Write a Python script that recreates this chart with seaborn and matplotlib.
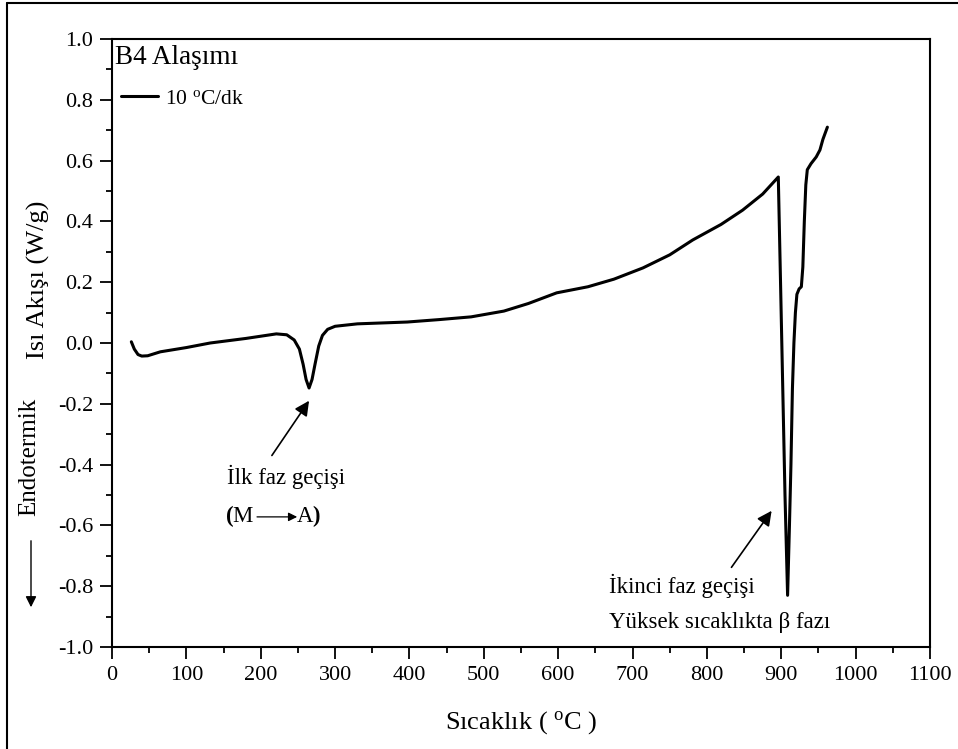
import matplotlib
matplotlib.use("Agg")
import matplotlib.pyplot as plt
from matplotlib.lines import Line2D
from matplotlib.ticker import MultipleLocator
import seaborn as sns
import pandas as pd

# ---- data ----
temperature = [26, 30, 35, 40, 48, 65, 100, 132, 180, 221, 235, 245, 252, 257, 261,
               265, 269, 273, 278, 283, 290, 300, 330, 397, 440, 483, 527, 560, 598,
               640, 675, 714, 750, 781, 819, 848, 875, 896, 899, 902, 905, 908.5,
               911, 913, 915, 917, 919, 921, 924, 927, 929, 931, 933, 935, 940, 947,
               952, 956, 962]
heat_flow = [0.004, -0.02, -0.038, -0.043, -0.042, -0.029, -0.015, 0.0, 0.015, 0.03,
             0.027, 0.01, -0.02, -0.07, -0.12, -0.148, -0.12, -0.07, -0.01, 0.025,
             0.045, 0.055, 0.063, 0.069, 0.077, 0.086, 0.105, 0.13, 0.165, 0.185,
             0.21, 0.247, 0.29, 0.339, 0.39, 0.437, 0.49, 0.546, 0.2, -0.15, -0.5,
             -0.83, -0.6, -0.4, -0.15, 0.0, 0.1, 0.16, 0.178, 0.185, 0.25, 0.4, 0.52,
             0.57, 0.59, 0.612, 0.635, 0.67, 0.71]
series_label = "10 $^{\\mathrm{o}}$C/dk"
title_text = "B4 Alaşımı"
x_label = "Sıcaklık ( $^{\\mathrm{o}}$C )"
y_label = "Isı Akışı (W/g)"
side_label = "Endotermik"
ann1_lines = ["İlk faz geçişi"]
ann2_lines = ["İkinci faz geçişi", "Yüksek sıcaklıkta β fazı"]

df = pd.DataFrame({"T": temperature, "Q": heat_flow})

sns.set_theme(style="ticks")
plt.rcParams["font.family"] = ["Liberation Serif", "DejaVu Serif"]
plt.rcParams["mathtext.fontset"] = "custom"
plt.rcParams["mathtext.rm"] = "Liberation Serif"
plt.rcParams["mathtext.it"] = "Liberation Serif:italic"
plt.rcParams["text.color"] = "black"
plt.rcParams["axes.labelcolor"] = "black"
plt.rcParams["xtick.color"] = "black"
plt.rcParams["ytick.color"] = "black"

fig = plt.figure(figsize=(9.58, 7.49), dpi=100)
ax = fig.add_axes([112 / 958, 1 - 647 / 749, (930 - 112) / 958, (647 - 39) / 749])

sns.lineplot(data=df, x="T", y="Q", sort=False, estimator=None, color="black",
             linewidth=2.2, ax=ax, label=series_label)

ax.set_xlim(0, 1100)
ax.set_ylim(-1.0, 1.0)
ax.xaxis.set_major_locator(MultipleLocator(100))
ax.xaxis.set_minor_locator(MultipleLocator(50))
ax.yaxis.set_major_locator(MultipleLocator(0.2))
ax.yaxis.set_minor_locator(MultipleLocator(0.1))
ax.yaxis.set_major_formatter(matplotlib.ticker.FuncFormatter(lambda v, p: f"{v:.1f}"))
ax.tick_params(axis="both", which="major", direction="out", length=8.5, width=1.3,
               labelsize=16, color="black", labelcolor="black", pad=5)
ax.tick_params(axis="both", which="minor", direction="out", length=4.5, width=1.3,
               color="black")
for s in ax.spines.values():
    s.set_visible(True)
    s.set_linewidth(1.5)
    s.set_color("black")
ax.set_xlabel("")
ax.set_ylabel("")

leg = ax.legend(loc="center left", bbox_to_anchor=(0.011, (647 - 99) / 608),
                frameon=False, fontsize=15.5, handlelength=1.7, handletextpad=0.35,
                borderpad=0.0, borderaxespad=0.0)
for t in leg.get_texts():
    t.set_color("black")

ax.text(0.004, (647 - 58) / 608, title_text, transform=ax.transAxes, ha="left",
        va="center", fontsize=19.5)

# figure-level labels
fig.text(521 / 958, 1 - 723 / 749, x_label, ha="center", va="center", fontsize=19)
fig.text(38 / 958, 1 - 280 / 749, y_label, ha="center", va="center", rotation=90,
         fontsize=19)
fig.text(29 / 958, 1 - 457 / 749, side_label, ha="center", va="center", rotation=90,
         fontsize=18)
fig.add_artist(matplotlib.patches.FancyArrowPatch(
    (31 / 958, 1 - 538 / 749), (31 / 958, 1 - 610 / 749), transform=fig.transFigure,
    arrowstyle="-|>", mutation_scale=16, color="black", lw=1.0))

# annotations
arrow_kw = dict(arrowstyle="-|>", color="black", lw=1.2, mutation_scale=22,
                shrinkA=0, shrinkB=0)
ax.annotate("", xy=(265, -0.19), xytext=(215, -0.37), arrowprops=arrow_kw)
ax.annotate("", xy=(887, -0.552), xytext=(833, -0.738), arrowprops=arrow_kw)

ax.text(154, -0.44, ann1_lines[0], ha="left", va="center", fontsize=16.5)
ax.text(153, -0.57, "(", ha="left", va="center", fontsize=16.5, fontweight="bold")
ax.text(162, -0.57, "M", ha="left", va="center", fontsize=16.5)
ax.annotate("", xy=(249, -0.572), xytext=(195, -0.572),
            arrowprops=dict(arrowstyle="-|>", color="black", lw=0.9,
                            mutation_scale=13, shrinkA=0, shrinkB=0))
ax.text(248, -0.57, "A", ha="left", va="center", fontsize=16.5)
ax.text(269, -0.57, ")", ha="left", va="center", fontsize=16.5, fontweight="bold")

ax.text(668, -0.80, ann2_lines[0], ha="left", va="center", fontsize=16.5)
ax.text(668, -0.918, ann2_lines[1], ha="left", va="center", fontsize=16.5)

# outer frame (top and left edges visible in reference)
fig.add_artist(Line2D([7 / 958, 1.0], [1 - 3 / 749, 1 - 3 / 749],
                      transform=fig.transFigure, color="black", lw=1.5))
fig.add_artist(Line2D([7 / 958, 7 / 958], [0.0, 1 - 3 / 749],
                      transform=fig.transFigure, color="black", lw=1.5))

fig.savefig("out.png", dpi=100, facecolor="white")
